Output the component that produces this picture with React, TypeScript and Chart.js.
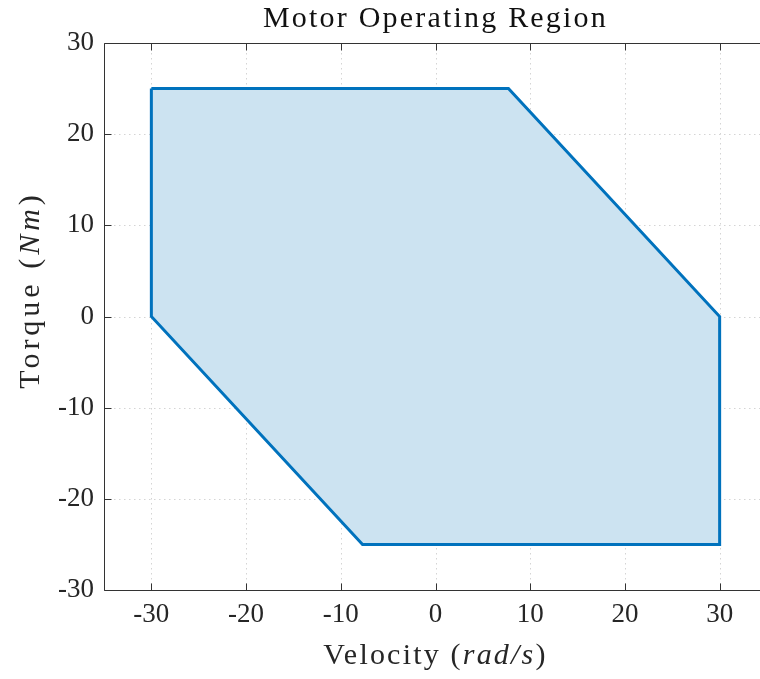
import React, { useEffect, useRef } from "react";
import { Chart, registerables } from "chart.js";

Chart.register(...registerables);

// ---- data ----
const velocity = [-30, 7.7, 30, 30, -7.7, -30, -30];
const torque = [25, 25, 0, -25, -25, 0, 25];
const xTicks = [-30, -20, -10, 0, 10, 20, 30];
const yTicks = [-30, -20, -10, 0, 10, 20, 30];
const titleText = "Motor Operating Region";
const xLabelParts: [string, boolean][] = [["Velocity (", false], ["rad/s", true], [")", false]];
const yLabelParts: [string, boolean][] = [["Torque (", false], ["Nm", true], [")", false]];

const FONT = "'Liberation Serif', 'Times New Roman', serif";
const AXIS_COLOR = "#333333";
const TEXT_COLOR = "#262626";

function drawParts(ctx: CanvasRenderingContext2D, parts: [string, boolean][], size: number, spacing: number) {
  const fonts = parts.map(([, it]) => `${it ? "italic " : ""}${size}px ${FONT}`);
  (ctx as any).letterSpacing = `${spacing}px`;
  let total = 0;
  const widths = parts.map(([t], i) => {
    ctx.font = fonts[i];
    const w = ctx.measureText(t).width;
    total += w;
    return w;
  });
  let x = -total / 2;
  ctx.textAlign = "left";
  ctx.textBaseline = "alphabetic";
  parts.forEach(([t], i) => {
    ctx.font = fonts[i];
    ctx.fillText(t, x, 0);
    x += widths[i];
  });
  (ctx as any).letterSpacing = "0px";
}

const framePlugin = {
  id: "matlabFrame",
  beforeDatasetsDraw(chart: any) {
    const { ctx, chartArea, scales } = chart;
    const { left, right, top, bottom } = chartArea;
    ctx.save();
    ctx.strokeStyle = "#d4d4d4";
    ctx.lineWidth = 1;
    ctx.setLineDash([1.5, 3.5]);
    xTicks.forEach((v) => {
      const px = Math.round(scales.x.getPixelForValue(v)) + 0.5;
      ctx.beginPath();
      ctx.moveTo(px, top);
      ctx.lineTo(px, bottom);
      ctx.stroke();
    });
    yTicks.forEach((v) => {
      const py = Math.round(scales.y.getPixelForValue(v)) + 0.5;
      ctx.beginPath();
      ctx.moveTo(left, py);
      ctx.lineTo(right, py);
      ctx.stroke();
    });
    ctx.restore();
  },
  afterDatasetsDraw(chart: any) {
    const { ctx, chartArea, scales } = chart;
    const { left, right, top, bottom } = chartArea;
    ctx.save();
    ctx.strokeStyle = AXIS_COLOR;
    ctx.lineWidth = 1;
    ctx.setLineDash([]);
    const L = Math.round(left) + 0.5;
    const R = Math.round(right) + 0.5;
    const T = Math.round(top) + 0.5;
    const B = Math.round(bottom) + 0.5;
    ctx.beginPath();
    ctx.moveTo(L, T);
    ctx.lineTo(R, T);
    ctx.lineTo(R, B);
    ctx.lineTo(L, B);
    ctx.closePath();
    ctx.stroke();
    const tl = 7;
    xTicks.forEach((v) => {
      const px = Math.round(scales.x.getPixelForValue(v)) + 0.5;
      ctx.beginPath();
      ctx.moveTo(px, B);
      ctx.lineTo(px, B - tl);
      ctx.moveTo(px, T);
      ctx.lineTo(px, T + tl);
      ctx.stroke();
    });
    yTicks.forEach((v) => {
      const py = Math.round(scales.y.getPixelForValue(v)) + 0.5;
      ctx.beginPath();
      ctx.moveTo(L, py);
      ctx.lineTo(L + tl, py);
      ctx.moveTo(R, py);
      ctx.lineTo(R - tl, py);
      ctx.stroke();
    });
    ctx.restore();
  },
  afterDraw(chart: any) {
    const { ctx, chartArea } = chart;
    const cx = (chartArea.left + chartArea.right) / 2;
    ctx.save();
    ctx.fillStyle = "#111111";
    ctx.translate(cx, 27);
    drawParts(ctx, [[titleText, false]], 30, 2.2);
    ctx.restore();

    ctx.save();
    ctx.fillStyle = TEXT_COLOR;
    ctx.translate(cx, 664);
    drawParts(ctx, xLabelParts, 30, 2.2);
    ctx.restore();

    ctx.save();
    ctx.fillStyle = TEXT_COLOR;
    ctx.translate(39, 290);
    ctx.rotate(-Math.PI / 2);
    drawParts(ctx, yLabelParts, 30, 4);
    ctx.restore();
  },
};

export default function App() {
  const canvasRef = useRef<HTMLCanvasElement | null>(null);

  useEffect(() => {
    const canvas = canvasRef.current;
    if (!canvas) return;
    const points = velocity.map((v, i) => ({ x: v, y: torque[i] }));
    const chart = new Chart(canvas, {
      type: "scatter",
      data: {
        datasets: [
          {
            data: points,
            showLine: true,
            fill: "shape",
            backgroundColor: "rgb(204,227,241)",
            borderColor: "#0072BD",
            borderWidth: 3,
            borderJoinStyle: "miter",
            pointRadius: 0,
            pointHoverRadius: 0,
            tension: 0,
          } as any,
        ],
      },
      options: {
        animation: false,
        responsive: false,
        events: [],
        layout: { padding: { top: 43, right: 33, left: 0, bottom: 0 } },
        plugins: {
          legend: { display: false },
          title: { display: false },
          tooltip: { enabled: false },
        },
        scales: {
          x: {
            type: "linear",
            min: -35,
            max: 35,
            grid: { display: false, drawTicks: false },
            border: { display: false },
            ticks: {
              font: { family: FONT, size: 27 },
              color: TEXT_COLOR,
              padding: 9,
              maxRotation: 0,
              autoSkip: false,
            },
            afterBuildTicks: (s: any) => {
              s.ticks = xTicks.map((v) => ({ value: v }));
            },
            afterFit: (s: any) => {
              s.height = 89;
            },
          },
          y: {
            type: "linear",
            min: -30,
            max: 30,
            grid: { display: false, drawTicks: false },
            border: { display: false },
            ticks: {
              font: { family: FONT, size: 27 },
              color: TEXT_COLOR,
              padding: 10,
              autoSkip: false,
            },
            afterBuildTicks: (s: any) => {
              s.ticks = yTicks.map((v) => ({ value: v }));
            },
            afterFit: (s: any) => {
              s.width = 104;
            },
          },
        },
      },
      plugins: [framePlugin],
    });
    return () => chart.destroy();
  }, []);

  return (
    <div
      style={{
        position: "fixed",
        left: 0,
        top: 0,
        width: 760,
        height: 679,
        overflow: "hidden",
        background: "#ffffff",
      }}
    >
      <canvas ref={canvasRef} width={800} height={679} style={{ display: "block" }} />
    </div>
  );
}
